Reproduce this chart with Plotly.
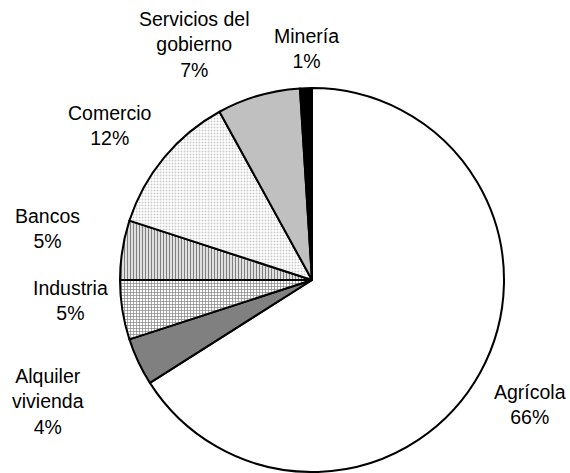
import plotly.graph_objects as go

labels = ["Agrícola", "Alquiler vivienda", "Industria", "Bancos", "Comercio", "Servicios del gobierno", "Minería"]
label_lines = ["Agrícola", "Alquiler<br>vivienda", "Industria", "Bancos", "Comercio", "Servicios del<br>gobierno", "Minería"]
values = [66, 4, 5, 5, 12, 7, 1]

fill_colors = ["#ffffff", "#808080", "#ffffff", "#ffffff", "#ffffff", "#c0c0c0", "#000000"]
patterns = ["", "", "+", "|", ".", "", ""]
pattern_fg = ["#000000", "#000000", "#000000", "#000000", "#9a9a9a", "#000000", "#000000"]
pattern_size = [4, 4, 3, 3, 3, 4, 4]
pattern_solid = [0.3, 0.3, 0.4, 0.5, 0.35, 0.3, 0.3]

W, H = 570, 473
cx, cy, r = 312, 280, 192

fig = go.Figure(go.Pie(
    labels=labels,
    values=values,
    sort=False,
    direction="clockwise",
    rotation=0,
    textinfo="none",
    hoverinfo="label+percent",
    showlegend=False,
    marker=dict(
        colors=fill_colors,
        line=dict(color="#000000", width=2),
        pattern=dict(shape=patterns, fgcolor=pattern_fg, bgcolor="#ffffff",
                     size=pattern_size, solidity=pattern_solid, fillmode="overlay"),
    ),
    domain=dict(x=[(cx - r) / W, (cx + r) / W], y=[(H - cy - r) / H, (H - cy + r) / H]),
))

# label anchor positions (pixels, centre of text block)
label_pos = [(530, 404), (48, 401), (70, 300), (47, 229), (110, 125), (194, 45), (306, 49)]
total = sum(values)
annotations = []
for lab, v, (x, y) in zip(label_lines, values, label_pos):
    annotations.append(dict(
        x=x / W, y=1 - y / H, xref="paper", yref="paper",
        text=f"{lab}<br>{round(100 * v / total)}%",
        showarrow=False, xanchor="center", yanchor="middle",
        font=dict(family="Liberation Sans, Arial", size=19.5, color="#000000"),
    ))

fig.update_layout(
    width=W, height=H,
    margin=dict(l=0, r=0, t=0, b=0),
    paper_bgcolor="#ffffff",
    plot_bgcolor="#ffffff",
    annotations=annotations,
)

fig.write_html("out.html", config={"displayModeBar": False},
               post_script=["document.body.style.margin='0';document.body.style.padding='0';"])
